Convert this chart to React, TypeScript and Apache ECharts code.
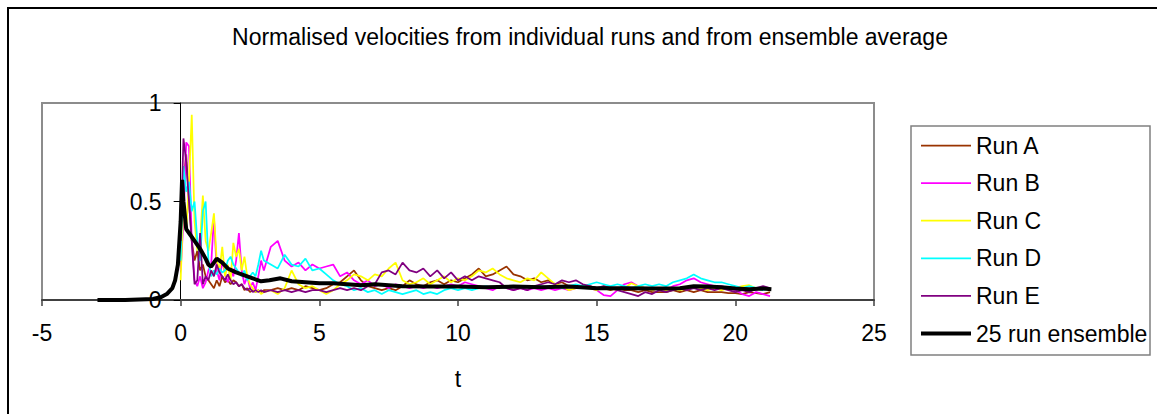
import React, { useEffect, useRef } from "react";
import * as echarts from "echarts";

const TITLE = "Normalised velocities from individual runs and from ensemble average";
const SERIES_NAMES = ["Run A", "Run B", "Run C", "Run D", "Run E", "25 run ensemble"];
const COLORS = ["#993300", "#FF00FF", "#FFFF00", "#00FFFF", "#800080", "#000000"];

const T_RUNS = [
  0, 0.1, 0.2, 0.3, 0.4, 0.5, 0.6, 0.7, 0.8, 0.9,
  1, 1.1, 1.2, 1.3, 1.4, 1.5, 1.6, 1.7, 1.8, 1.9,
  2, 2.1, 2.2, 2.3, 2.4, 2.5, 2.6, 2.7, 2.8, 2.9,
  3,
  3.25, 3.5, 3.75, 4, 4.25, 4.5, 4.75, 5,
  5.25, 5.5, 5.75, 6, 6.25, 6.5, 6.75, 7,
  7.25, 7.5, 7.75, 8, 8.25, 8.5, 8.75, 9,
  9.25, 9.5, 9.75, 10, 10.25, 10.5, 10.75, 11,
  11.25, 11.5, 11.75, 12, 12.25, 12.5, 12.75, 13,
  13.25, 13.5, 13.75, 14, 14.25, 14.5, 14.75, 15,
  15.25, 15.5, 15.75, 16, 16.25, 16.5, 16.75, 17,
  17.25, 17.5, 17.75, 18, 18.25, 18.5, 18.75, 19,
  19.25, 19.5, 19.75, 20, 20.25, 20.5, 20.75, 21,
  21.25,
];

const RUN_A = [
  0.2, 0.6, 0.74, 0.5, 0.3, 0.2, 0.25, 0.15, 0.18, 0.12,
  0.1, 0.08, 0.06, 0.1, 0.07, 0.12, 0.09, 0.1, 0.08, 0.1,
  0.09, 0.07, 0.08, 0.05, 0.06, 0.04, 0.05, 0.04, 0.05, 0.04,
  0.05,
  0.05, 0.06, 0.05, 0.06, 0.05, 0.07, 0.06, 0.05,
  0.06, 0.08, 0.09, 0.12, 0.15, 0.1, 0.07, 0.06,
  0.05, 0.06, 0.05, 0.07, 0.1, 0.08, 0.07, 0.09,
  0.1, 0.08, 0.1, 0.09, 0.11, 0.13, 0.16, 0.12,
  0.13, 0.15, 0.17, 0.13, 0.12, 0.1, 0.11, 0.09,
  0.1, 0.08, 0.09, 0.07, 0.07, 0.06, 0.07, 0.06,
  0.06, 0.05, 0.06, 0.05, 0.05, 0.04, 0.05, 0.04,
  0.04, 0.04, 0.05, 0.04, 0.05, 0.04, 0.05, 0.04,
  0.04, 0.04, 0.035, 0.035, 0.03, 0.04, 0.035, 0.03,
  0.04,
];

const RUN_B = [
  0.15, 0.4, 0.8, 0.78, 0.3, 0.1, 0.07, 0.12, 0.06, 0.09,
  0.15, 0.18, 0.42, 0.15, 0.1, 0.2, 0.13, 0.09, 0.16, 0.12,
  0.2, 0.34, 0.15, 0.08, 0.12, 0.06, 0.09, 0.05, 0.12, 0.2,
  0.15,
  0.27, 0.3, 0.2, 0.17, 0.19, 0.15, 0.18, 0.16,
  0.17, 0.18, 0.12, 0.14, 0.1, 0.08, 0.1, 0.07,
  0.08, 0.06, 0.08, 0.07, 0.06, 0.07, 0.06, 0.07,
  0.06, 0.07, 0.08, 0.07, 0.09, 0.08, 0.07, 0.06,
  0.05, 0.07, 0.06, 0.05, 0.06, 0.05, 0.06, 0.05,
  0.06, 0.05, 0.06, 0.05, 0.06, 0.07, 0.06, 0.05,
  0.025, 0.02, 0.05, 0.08, 0.09, 0.07, 0.06, 0.05,
  0.06, 0.05, 0.07, 0.08, 0.1, 0.11, 0.09, 0.08,
  0.07, 0.07, 0.06, 0.05, 0.03, 0.02, 0.04, 0.03,
  0.02,
];

const RUN_C = [
  0.1, 0.5, 0.35, 0.6, 0.94, 0.4, 0.25, 0.3, 0.53, 0.3,
  0.25, 0.34, 0.44, 0.2, 0.15, 0.27, 0.12, 0.18, 0.1, 0.29,
  0.22, 0.26, 0.15, 0.22, 0.12, 0.08, 0.06, 0.04, 0.05, 0.03,
  0.04,
  0.05, 0.03, 0.06, 0.15, 0.08, 0.06, 0.07, 0.05,
  0.03, 0.05, 0.08, 0.1, 0.13, 0.12, 0.1, 0.13,
  0.12, 0.16, 0.19, 0.1, 0.08, 0.09, 0.11, 0.08,
  0.1, 0.12, 0.09, 0.11, 0.1, 0.12, 0.15, 0.14,
  0.16, 0.13, 0.11, 0.1, 0.09, 0.11, 0.1, 0.14,
  0.11, 0.08, 0.07, 0.05, 0.06, 0.07, 0.06, 0.05,
  0.07, 0.06, 0.05, 0.06, 0.085, 0.07, 0.06, 0.05,
  0.06, 0.05, 0.06, 0.05, 0.06, 0.07, 0.06, 0.05,
  0.06, 0.05, 0.06, 0.06, 0.07, 0.075, 0.06, 0.05,
  0.06,
];

const RUN_D = [
  0.2, 0.68, 0.55, 0.6, 0.45, 0.5, 0.3, 0.2, 0.45, 0.5,
  0.2, 0.12, 0.15, 0.13, 0.16, 0.14, 0.15, 0.2, 0.22, 0.18,
  0.16, 0.14, 0.12, 0.15, 0.1, 0.12, 0.14, 0.12, 0.18, 0.25,
  0.2,
  0.18, 0.16, 0.23, 0.18, 0.17, 0.21, 0.15, 0.16,
  0.13, 0.1, 0.08, 0.07, 0.05, 0.06, 0.04, 0.05,
  0.03, 0.05, 0.04, 0.03, 0.04, 0.05, 0.03, 0.04,
  0.03, 0.05, 0.06, 0.05, 0.06, 0.05, 0.06, 0.07,
  0.06, 0.07, 0.06, 0.07, 0.06, 0.07, 0.06, 0.07,
  0.06, 0.07, 0.06, 0.07, 0.08, 0.07, 0.08, 0.09,
  0.08, 0.07, 0.08, 0.07, 0.06, 0.07, 0.08, 0.07,
  0.08, 0.07, 0.09, 0.1, 0.11, 0.13, 0.11, 0.1,
  0.09, 0.09, 0.08, 0.07, 0.06, 0.07, 0.06, 0.05,
  0.06,
];

const RUN_E = [
  0.3, 0.82, 0.7, 0.5, 0.3, 0.08, 0.1, 0.34, 0.08, 0.12,
  0.1, 0.15, 0.12, 0.18, 0.14, 0.12, 0.1, 0.13, 0.1, 0.08,
  0.09, 0.07, 0.08, 0.06, 0.05, 0.06, 0.04, 0.05, 0.04, 0.05,
  0.04,
  0.05, 0.04, 0.05, 0.04, 0.05, 0.04, 0.05, 0.05,
  0.04, 0.05, 0.06, 0.05, 0.06, 0.05, 0.07, 0.08,
  0.14, 0.15, 0.13, 0.19, 0.15, 0.14, 0.16, 0.12,
  0.15, 0.11, 0.14, 0.1, 0.12, 0.1, 0.12, 0.11,
  0.1, 0.09, 0.06, 0.05, 0.06, 0.05, 0.07, 0.08,
  0.09, 0.08, 0.1, 0.09, 0.1, 0.08, 0.07, 0.06,
  0.07, 0.06, 0.05, 0.04, 0.03, 0.02, 0.04, 0.03,
  0.05, 0.04, 0.05, 0.06, 0.05, 0.06, 0.05, 0.06,
  0.05, 0.06, 0.05, 0.04, 0.05, 0.04, 0.06, 0.07,
  0.06,
];

const T_ENS = [
  -3, -2, -1, -0.7, -0.5, -0.3, -0.2, -0.1, 0, 0.05,
  0.1, 0.2, 0.3, 0.5, 0.7, 0.9, 1.0, 1.1, 1.3, 1.5,
  1.7, 2.0, 2.2, 2.4, 2.6, 2.9, 3.2, 3.6, 4.0, 4.5,
  5, 5.5, 6, 6.5, 7, 7.5, 8, 9, 10, 11,
  12, 13, 14, 15, 16, 17, 18, 18.5, 19, 19.5,
  20, 20.5, 21, 21.3,
];

const ENSEMBLE = [
  0, 0, 0.005, 0.015, 0.03, 0.06, 0.1, 0.18, 0.4, 0.61,
  0.5, 0.36, 0.34, 0.3, 0.26, 0.21, 0.18, 0.17, 0.21, 0.19,
  0.16, 0.14, 0.13, 0.12, 0.11, 0.095, 0.1, 0.11, 0.095, 0.09,
  0.085, 0.085, 0.08, 0.075, 0.08, 0.075, 0.07, 0.068, 0.068, 0.065,
  0.068, 0.065, 0.068, 0.06, 0.06, 0.058, 0.06, 0.07, 0.068, 0.065,
  0.058, 0.055, 0.058, 0.055,
];

const X_MIN = -5;
const X_MAX = 25;
const X_STEP = 5;
const Y_MIN = 0;
const Y_MAX = 1;
const Y_STEP = 0.5;

const FONT = "'Liberation Sans', Arial, sans-serif";

// plot frame (pixels)
const GRID_LEFT = 42;
const GRID_RIGHT_EDGE = 874;

export default function App() {
  const ref = useRef<HTMLDivElement>(null);

  useEffect(() => {
    if (!ref.current) return;
    const chart = echarts.init(ref.current, null, { renderer: "svg" });
    const runs = [RUN_A, RUN_B, RUN_C, RUN_D, RUN_E];
    const series: any[] = runs.map((vals, si) => ({
      name: SERIES_NAMES[si],
      type: "line",
      data: T_RUNS.map((t, i) => [t, vals[i]]),
      showSymbol: false,
      symbol: "none",
      lineStyle: { color: COLORS[si], width: 1.75 },
      itemStyle: { color: COLORS[si] },
      z: 2 + si,
    }));
    series.push({
      name: SERIES_NAMES[5],
      type: "line",
      data: T_ENS.map((t, i) => [t, ENSEMBLE[i]]),
      showSymbol: false,
      symbol: "none",
      lineStyle: { color: COLORS[5], width: 4 },
      itemStyle: { color: COLORS[5] },
      z: 10,
    });

    const zeroOffset = ((0 - X_MIN) / (X_MAX - X_MIN)) * (GRID_RIGHT_EDGE - GRID_LEFT);

    chart.setOption({
      animation: false,
      backgroundColor: "#ffffff",
      textStyle: { fontFamily: FONT },
      title: {
        text: TITLE,
        left: 585,
        top: 20,
        textAlign: "center",
        textStyle: { fontFamily: FONT, fontSize: 23, fontWeight: "normal", color: "#000" },
      },
      grid: {
        left: GRID_LEFT,
        right: 1157 - GRID_RIGHT_EDGE,
        top: 103,
        bottom: 114,
        show: true,
        borderColor: "#8c8c8c",
        borderWidth: 2,
        backgroundColor: "transparent",
        containLabel: false,
        outerBoundsMode: "none",
      },
      legend: {
        orient: "vertical",
        left: 919,
        top: 134,
        padding: 0,
        itemWidth: 50,
        itemHeight: 23,
        itemGap: 14.6,
        data: SERIES_NAMES.map((name, i) => ({
          name,
          lineStyle: { color: COLORS[i], width: i === 5 ? 4 : 1.75 },
        })),
        itemStyle: { opacity: 0, borderWidth: 0 },
        textStyle: { fontFamily: FONT, fontSize: 23, color: "#000" },
      },
      xAxis: {
        type: "value",
        min: X_MIN,
        max: X_MAX,
        interval: X_STEP,
        name: "t",
        nameLocation: "middle",
        nameGap: 67,
        nameTextStyle: { fontFamily: FONT, fontSize: 23, color: "#000" },
        axisLine: { show: true, onZero: false, lineStyle: { color: "#404040", width: 2 } },
        axisTick: { show: true, inside: false, length: 6, lineStyle: { color: "#404040", width: 1.5 } },
        axisLabel: { fontFamily: FONT, fontSize: 23, color: "#000", margin: 21 },
        splitLine: { show: false },
      },
      yAxis: {
        type: "value",
        min: Y_MIN,
        max: Y_MAX,
        interval: Y_STEP,
        position: "left",
        offset: -zeroOffset,
        axisLine: { show: true, onZero: false, lineStyle: { color: "#000", width: 1 } },
        axisTick: { show: true, inside: false, length: 7, lineStyle: { color: "#000", width: 1 } },
        axisLabel: { fontFamily: FONT, fontSize: 23, color: "#000", margin: 19 },
        splitLine: { show: false },
      },
      graphic: [
        {
          type: "rect",
          shape: { x: 8, y: 8, width: 1200, height: 500 },
          style: { fill: "none", stroke: "#000", lineWidth: 2 },
          silent: true,
          z: -10,
        },
        {
          type: "rect",
          shape: { x: 911, y: 126, width: 239, height: 229 },
          style: { fill: "none", stroke: "#808080", lineWidth: 1.5 },
          silent: true,
        },
      ],
      series,
    });
    return () => chart.dispose();
  }, []);

  return (
    <div
      ref={ref}
      style={{ position: "fixed", left: 0, top: 0, width: 1157, height: 414, background: "#fff" }}
    />
  );
}
